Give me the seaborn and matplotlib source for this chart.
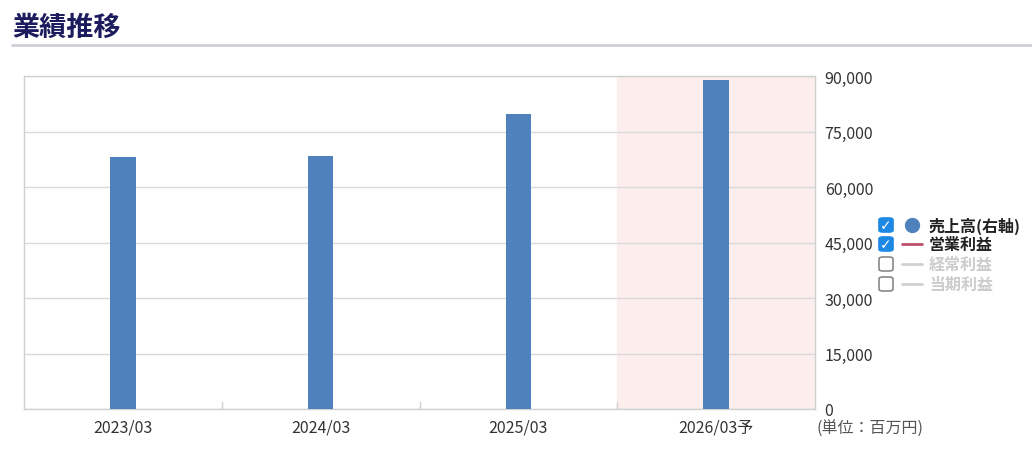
import matplotlib
matplotlib.use("Agg")
import matplotlib.pyplot as plt
import seaborn as sns
import pandas as pd
from matplotlib.patches import FancyBboxPatch
from matplotlib.lines import Line2D

sns.set_theme(style="white")
plt.rcParams["font.family"] = ["Noto Sans CJK JP", "DejaVu Sans"]

# data (百万円)
periods = ["2023/03", "2024/03", "2025/03", "2026/03予"]
sales = [68100, 68400, 79700, 88900]
y_ticks = [0, 15000, 30000, 45000, 60000, 75000, 90000]
legend_labels = ["売上高(右軸)", "営業利益", "経常利益", "当期利益"]
legend_checked = [True, True, False, False]

df = pd.DataFrame({"period": periods, "sales": sales})

W, H = 1032, 464
fig = plt.figure(figsize=(W / 100, H / 100), dpi=100)
ax = fig.add_axes([24 / W, 1 - 410 / H, (815 - 24) / W, (410 - 77) / H])

# forecast shading
ax.axvspan(2.5, 3.5, color="#fdeeee", zorder=0)

sns.barplot(data=df, x="period", y="sales", color="#4f81bd", saturation=1,
            width=0.13, linewidth=0, ax=ax, zorder=3)

ax.set_xlim(-0.5, 3.5)
ax.set_ylim(0, 90000)
ax.set_yticks(y_ticks)
ax.set_yticklabels([f"{v:,}" for v in y_ticks])
ax.yaxis.tick_right()
ax.grid(axis="y", color="#d9d9d9", linewidth=1, zorder=1)
ax.set_axisbelow(True)
for s in ax.spines.values():
    s.set_color("#d0d0d0")
    s.set_linewidth(1)
ax.tick_params(axis="y", length=0, pad=7, labelsize=11.5, labelcolor="#333333")
ax.tick_params(axis="x", length=0, pad=7, labelsize=11.5, labelcolor="#333333")
ax.set_xlabel("")
ax.set_ylabel("")

# small tick marks at category boundaries
for xb in [0.5, 1.5, 2.5]:
    ax.plot([xb, xb], [0, 1800], color="#d0d0d0", linewidth=1, zorder=2)

# title
fig.text(12 / W, 1 - 28 / H, "業績推移", fontsize=19.5, fontweight="bold",
         color="#1b1b5e", va="center", ha="left")
fig.add_artist(Line2D([12 / W, 1], [1 - 46 / H, 1 - 46 / H], color="#cfcfd8",
                      linewidth=2, transform=fig.transFigure))

# unit text
fig.text(817 / W, 1 - 429 / H, "(単位：百万円)", fontsize=11.5, color="#555555",
         va="center", ha="left")

# custom legend
rows_y = [226, 245, 265, 285]
for i, (lab, chk) in enumerate(zip(legend_labels, legend_checked)):
    yc = 1 - rows_y[i] / H
    bx, bw = 879, 14
    box = FancyBboxPatch((bx / W, yc - (bw / 2) / H), bw / W, bw / H,
                         boxstyle="round,pad=0,rounding_size=0.004",
                         transform=fig.transFigure,
                         facecolor="#1e88e5" if chk else "white",
                         edgecolor="#1e88e5" if chk else "#888888",
                         linewidth=1.2)
    fig.add_artist(box)
    if chk:
        fig.text((bx + bw / 2) / W, yc, "✓", color="white", fontsize=10,
                 fontweight="bold", ha="center", va="center",
                 family=["DejaVu Sans"])
    if i == 0:
        fig.add_artist(Line2D([912 / W], [yc], marker="o", markersize=10,
                              color="#4f81bd", transform=fig.transFigure))
    else:
        lc = "#c0506b" if chk else "#d0d0d0"
        fig.add_artist(Line2D([902 / W, 922 / W], [yc, yc], color=lc,
                              linewidth=2, transform=fig.transFigure))
    fig.text(929 / W, yc, lab, fontsize=11.5, fontweight="bold",
             color="#222222" if chk else "#cccccc", va="center", ha="left")

fig.savefig("out.png", dpi=100)
